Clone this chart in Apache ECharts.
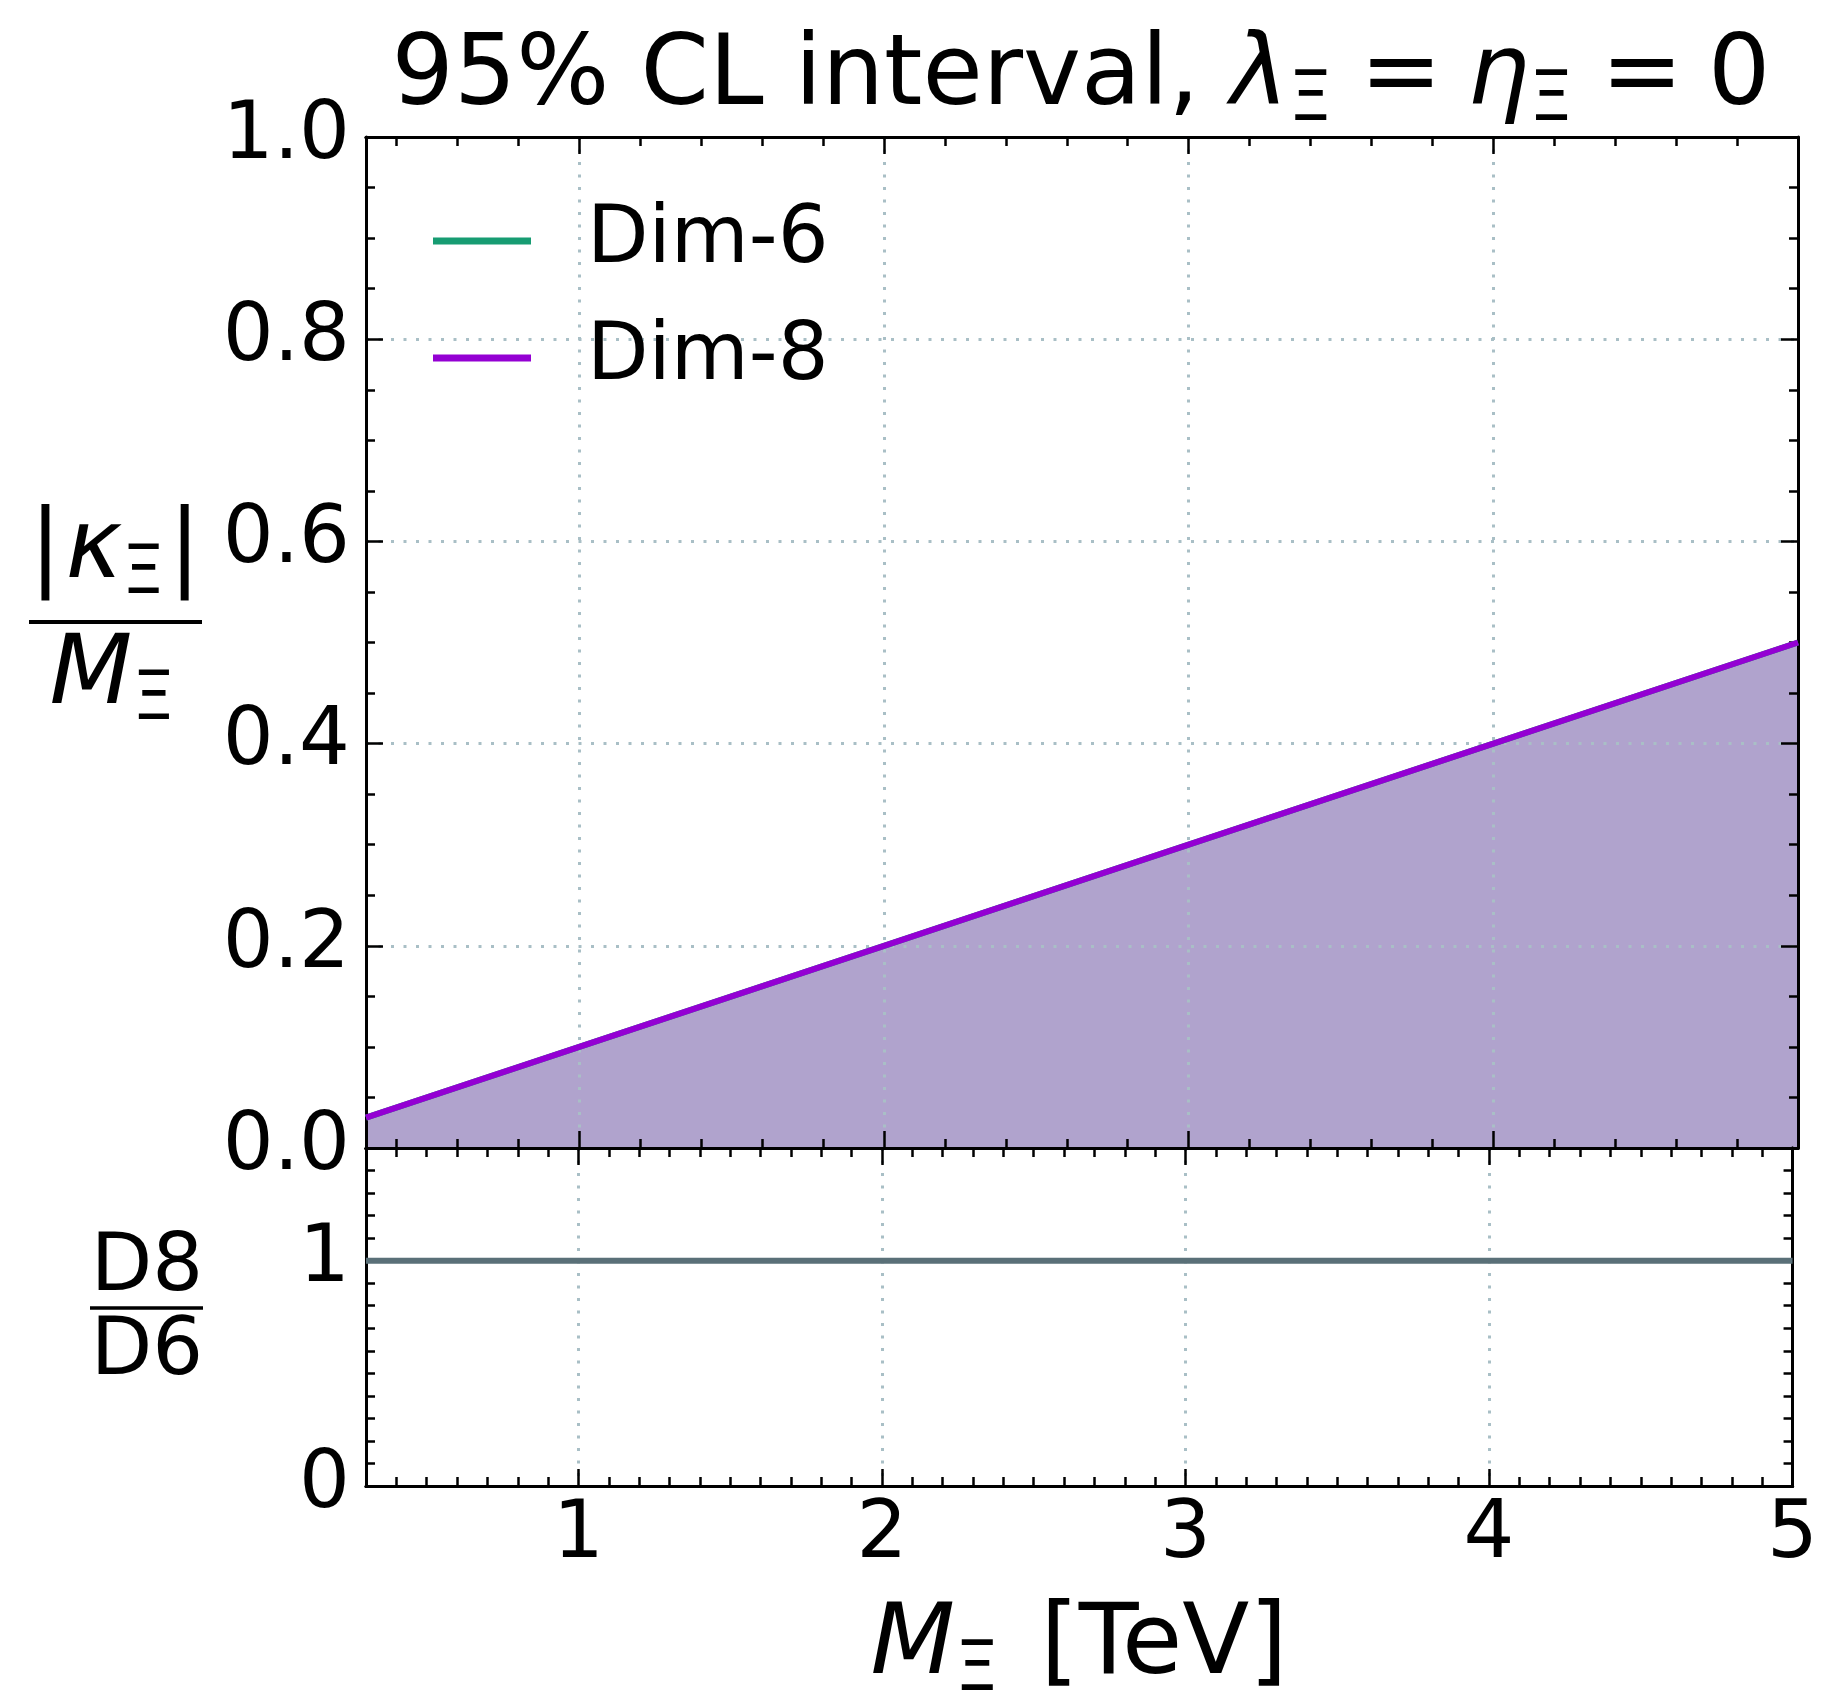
<!DOCTYPE html>
<html>
<head>
<meta charset="utf-8">
<script src="https://cdn.jsdelivr.net/npm/echarts@6/dist/echarts.min.js"></script>
<style>html,body{margin:0;padding:0;background:#fff}#chart{width:1821px;height:1696px}</style>
</head>
<body>
<div id="chart"></div>
<script>
// ---- data ----
const massTeV   = [0.3, 1, 2, 3, 4, 5];
const dim6Kappa = [0.03, 0.1, 0.2, 0.3, 0.4, 0.5];
const dim8Kappa = [0.03, 0.1, 0.2, 0.3, 0.4, 0.5];
const ratioD8D6 = [1, 1, 1, 1, 1, 1];
const seriesNames = ['Dim-6', 'Dim-8'];
const xMajorTicks = [1, 2, 3, 4, 5];
const ratioYTicks = [0, 1];

// minor tick positions (axis decoration)
const mainXMinor = [];
for (let k = 2; k <= 24; k++) { const v = +(k * 0.2).toFixed(1); if (v % 1 !== 0) mainXMinor.push(v); }
const ratioXMinor = [];
for (let k = 4; k <= 49; k++) { const v = +(k / 10).toFixed(1); if (v % 1 !== 0) ratioXMinor.push(v); }
const ratioYMinor = [];
for (let k = 1; k <= 14; k++) { const v = +(k / 10).toFixed(1); if (v !== 1) ratioYMinor.push(v); }

const FONT = 'DejaVu Sans';
const GREEN = '#179c72', PURPLE = '#9400d3', FILL = '#b0a3cd', RATIO = '#5a7078', GRIDC = '#a9bfc6';

const pairs = (xs, ys) => xs.map((x, i) => [x, ys[i]]);

// ---- text helpers (mathtext-like rows) ----
const mctx = document.createElement('canvas').getContext('2d');
function fnt(size, italic) { return (italic ? 'italic ' : '') + size + 'px "' + FONT + '"'; }
function midToBase(size, italic) {
  mctx.font = fnt(size, italic);
  mctx.textBaseline = 'alphabetic';
  const a = mctx.measureText('H').actualBoundingBoxAscent;
  mctx.textBaseline = 'middle';
  const m = mctx.measureText('H').actualBoundingBoxAscent;
  mctx.textBaseline = 'alphabetic';
  return a - m;
}
function textW(t, size, italic) { mctx.font = fnt(size, italic); return mctx.measureText(t).width; }
function mathRow(parts, cx, baseY) {
  let total = 0;
  parts.forEach(p => { p.w = textW(p.t, p.size, p.italic); total += p.w + (p.gap || 0); });
  let x = cx - total / 2;
  return parts.map(p => {
    const el = {
      type: 'text', x: x, y: baseY + (p.dy || 0) - midToBase(p.size, p.italic), z: 100,
      style: { text: p.t, fontFamily: FONT, fontSize: p.size, fontStyle: p.italic ? 'italic' : 'normal',
               fill: '#000', align: 'left', verticalAlign: 'middle' }
    };
    x += p.w + (p.gap || 0);
    return el;
  });
}

// ---- layout ----
const L = 366, R = 1798, T = 137, MB = 1148, RB = 1486;
const W = R - L;

function xAx(grid, pos, ticks, len, extra) {
  return Object.assign({
    type: 'value', gridIndex: grid, position: pos, min: 0.3, max: 5,
    axisLine: { show: true, onZero: false, lineStyle: { color: '#000', width: 3 } },
    axisTick: { show: true, inside: true, length: len, customValues: ticks, lineStyle: { color: '#000', width: 2.5 } },
    axisLabel: { show: false },
    splitLine: { show: false }
  }, extra || {});
}
const dotted = { show: true, lineStyle: { color: GRIDC, width: 3, type: [3, 9.5] } };

const xAxes = [
  xAx(0, 'bottom', xMajorTicks, 17, { splitLine: dotted }),
  xAx(0, 'top', xMajorTicks, 17),
  xAx(0, 'bottom', mainXMinor, 9),
  xAx(0, 'top', mainXMinor, 9),
  xAx(1, 'bottom', xMajorTicks, 17, {
    splitLine: dotted,
    axisLabel: { show: true, customValues: xMajorTicks, fontFamily: FONT, fontSize: 80, color: '#000', margin: 10,
                 formatter: v => String(Math.round(v)) }
  }),
  xAx(1, 'top', xMajorTicks, 17),
  xAx(1, 'bottom', ratioXMinor, 9),
  xAx(1, 'top', ratioXMinor, 9)
];

const yMainBase = (pos, labels) => ({
  type: 'value', gridIndex: 0, position: pos, min: 0, max: 1, interval: 0.2,
  axisLine: { show: true, onZero: false, lineStyle: { color: '#000', width: 3 } },
  axisTick: { show: true, inside: true, length: 17, lineStyle: { color: '#000', width: 2.5 } },
  minorTick: { show: true, splitNumber: 4, length: 9, lineStyle: { color: '#000', width: 2.5 } },
  axisLabel: labels ? { show: true, fontFamily: FONT, fontSize: 80, color: '#000', margin: 16,
                        formatter: v => v.toFixed(1) } : { show: false },
  splitLine: labels ? dotted : { show: false }
});
const yRatio = (pos, ticks, len, labels) => ({
  type: 'value', gridIndex: 1, position: pos, min: 0, max: 1.5,
  axisLine: { show: true, onZero: false, lineStyle: { color: '#000', width: 3 } },
  axisTick: { show: true, inside: true, length: len, customValues: ticks, lineStyle: { color: '#000', width: 2.5 } },
  axisLabel: labels ? { show: true, customValues: ticks, fontFamily: FONT, fontSize: 80, color: '#000', margin: 16,
                        formatter: v => String(Math.round(v)) } : { show: false },
  splitLine: { show: false }
});
const yAxes = [
  yMainBase('left', true),
  yMainBase('right', false),
  yRatio('left', ratioYTicks, 17, true),
  yRatio('right', ratioYTicks, 17, false),
  yRatio('left', ratioYMinor, 9, false),
  yRatio('right', ratioYMinor, 9, false)
];

// ---- texts ----
const graphics = [].concat(
  mathRow([
    { t: '95% CL interval,', size: 98, gap: 31 },
    { t: 'λ', size: 98, italic: true },
    { t: 'Ξ', size: 69, dy: 16, gap: 28 },
    { t: '=', size: 98, gap: 25 },
    { t: 'η', size: 98, italic: true },
    { t: 'Ξ', size: 69, dy: 16, gap: 28 },
    { t: '=', size: 98, gap: 25 },
    { t: '0', size: 98 }
  ], (L + R) / 2 - 1, 104),
  mathRow([
    { t: 'M', size: 98, italic: true },
    { t: 'Ξ', size: 69, dy: 17, gap: 42 },
    { t: '[TeV]', size: 98 }
  ], (L + R) / 2 - 3, 1673),
  mathRow([
    { t: '|', size: 96, gap: 4 },
    { t: 'κ', size: 96, italic: true },
    { t: 'Ξ', size: 67, dy: 16, gap: 4 },
    { t: '|', size: 96 }
  ], 115, 577),
  mathRow([
    { t: 'M', size: 96, italic: true },
    { t: 'Ξ', size: 67, dy: 16 }
  ], 112, 703),
  [{ type: 'line', z: 100, shape: { x1: 29, y1: 622, x2: 202, y2: 622 }, style: { stroke: '#000', lineWidth: 4 } }],
  mathRow([{ t: 'D8', size: 80 }], 147, 1290),
  mathRow([{ t: 'D6', size: 80 }], 147, 1374),
  [{ type: 'line', z: 100, shape: { x1: 90, y1: 1308, x2: 203, y2: 1308 }, style: { stroke: '#000', lineWidth: 3.5 } }]
);

const chart = echarts.init(document.getElementById('chart'), null, { renderer: 'canvas' });
chart.setOption({
  animation: false,
  backgroundColor: '#fff',
  grid: [
    { left: L, top: T, width: W, height: MB - T, containLabel: false },
    { left: L, top: MB, width: W, height: RB - MB, containLabel: false }
  ],
  legend: {
    data: seriesNames, orient: 'vertical', left: 433, top: 201, padding: 0, itemGap: 37,
    itemWidth: 98, itemHeight: 7, icon: 'rect', selectedMode: false,
    textStyle: { fontFamily: FONT, fontSize: 80, color: '#000', lineHeight: 80, padding: [0, 0, 0, 51] }
  },
  xAxis: xAxes,
  yAxis: yAxes,
  series: [
    {
      name: 'band', type: 'line', xAxisIndex: 0, yAxisIndex: 0, z: -1, silent: true,
      data: pairs(massTeV, dim8Kappa), showSymbol: false,
      lineStyle: { width: 0, color: FILL }, itemStyle: { color: FILL },
      areaStyle: { color: FILL, opacity: 1 }
    },
    {
      name: 'Dim-6', type: 'line', xAxisIndex: 0, yAxisIndex: 0, z: 3,
      data: pairs(massTeV, dim6Kappa), showSymbol: false, color: GREEN,
      lineStyle: { width: 6, color: GREEN }, itemStyle: { color: GREEN }
    },
    {
      name: 'Dim-8', type: 'line', xAxisIndex: 0, yAxisIndex: 0, z: 4,
      data: pairs(massTeV, dim8Kappa), showSymbol: false, color: PURPLE,
      lineStyle: { width: 6, color: PURPLE }, itemStyle: { color: PURPLE }
    },
    {
      name: 'D8/D6', type: 'line', xAxisIndex: 4, yAxisIndex: 2, z: 4,
      data: pairs(massTeV, ratioD8D6), showSymbol: false, color: RATIO,
      lineStyle: { width: 6, color: RATIO }, itemStyle: { color: RATIO }
    }
  ],
  graphic: graphics
});
</script>
</body>
</html>
